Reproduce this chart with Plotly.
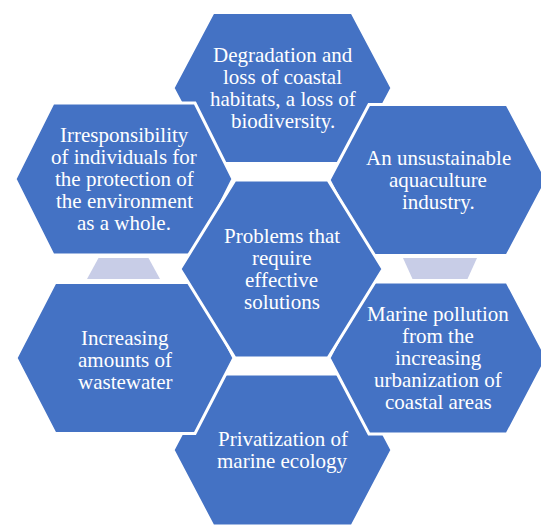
import plotly.graph_objects as go

# Text content of each hexagon (one entry per line)
labels_top = ["Degradation and", "loss of coastal", "habitats, a loss of", "biodiversity."]
labels_upper_left = ["Irresponsibility", "of individuals for", "the protection of", "the environment", "as a whole."]
labels_upper_right = ["An unsustainable", "aquaculture", "industry."]
labels_lower_left = ["Increasing", "amounts of", "wastewater"]
labels_lower_right = ["Marine pollution", "from the", "increasing", "urbanization of", "coastal areas"]
labels_bottom = ["Privatization of", "marine ecology"]
labels_center = ["Problems that", "require", "effective", "solutions"]

# Layout (pixel space, y downwards): order = drawing order
hex_names = ["top", "bottom", "upper_left", "upper_right", "lower_left", "lower_right", "center"]
hex_cx = [282.5, 282.5, 124, 438, 125, 438, 281.5]
hex_cy = [88, 450, 179, 180, 358, 358, 269]
hex_w = [219, 219, 218, 218, 218, 218, 203]
hex_h = [151, 152, 152, 151, 151, 152, 178]
hex_d = [40, 40, 38, 40, 39, 40, 55]
text_cy = [88, 450, 179, 180, 359.5, 358, 269]
hex_labels = [labels_top, labels_bottom, labels_upper_left, labels_upper_right,
              labels_lower_left, labels_lower_right, labels_center]

# small light trapezoids in the gaps
trap_cx = [123.5, 440]
trap_top_half = [25, 37]
trap_bot_half = [36.5, 27.5]
trap_y0, trap_y1 = 258, 279

BLUE = "#4472C4"
LAV = "#C8CDE7"
W, H = 541, 525
LINE_STEP = 22

fig = go.Figure()

for cx, tt, bb in zip(trap_cx, trap_top_half, trap_bot_half):
    fig.add_trace(go.Scatter(
        x=[cx - tt, cx + tt, cx + bb, cx - bb, cx - tt],
        y=[trap_y0, trap_y0, trap_y1, trap_y1, trap_y0],
        mode="lines", fill="toself", fillcolor=LAV,
        line=dict(color=LAV, width=0), hoverinfo="skip", showlegend=False))

for cx, cy, w, h, d in zip(hex_cx, hex_cy, hex_w, hex_h, hex_d):
    xs = [cx - w / 2, cx - w / 2 + d, cx + w / 2 - d, cx + w / 2, cx + w / 2 - d, cx - w / 2 + d, cx - w / 2]
    ys = [cy, cy - h / 2, cy - h / 2, cy, cy + h / 2, cy + h / 2, cy]
    fig.add_trace(go.Scatter(
        x=xs, y=ys, mode="lines", fill="toself", fillcolor=BLUE,
        line=dict(color="white", width=3), hoverinfo="skip", showlegend=False))

for cx, tcy, lines in zip(hex_cx, text_cy, hex_labels):
    n = len(lines)
    for i, line in enumerate(lines):
        fig.add_annotation(
            x=cx, y=tcy + (i - (n - 1) / 2) * LINE_STEP,
            text=line, showarrow=False, xanchor="center", yanchor="middle",
            font=dict(family="Liberation Serif", size=21, color="white"))

fig.update_layout(
    width=W, height=H, margin=dict(l=0, r=0, t=0, b=0),
    paper_bgcolor="white", plot_bgcolor="white",
    xaxis=dict(range=[0, W], visible=False, fixedrange=True),
    yaxis=dict(range=[H, 0], visible=False, fixedrange=True),
)

fig.write_html(
    "out.html",
    config={"displayModeBar": False},
    post_script="document.body.style.margin='0';document.body.style.overflow='hidden';",
)
